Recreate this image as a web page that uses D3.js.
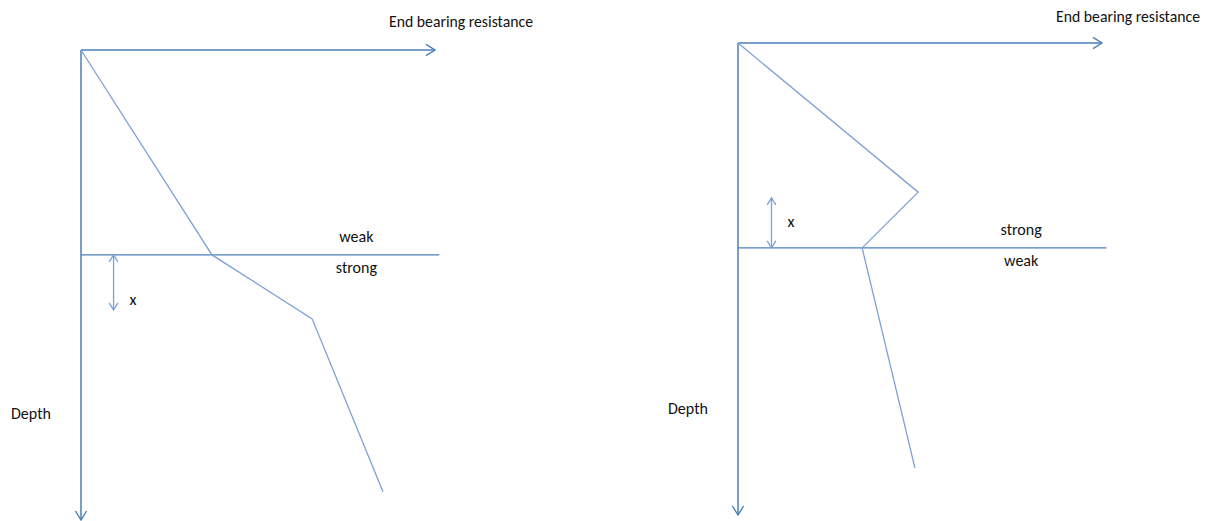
<!DOCTYPE html>
<html>
<head>
<meta charset="utf-8">
<script src="https://cdn.jsdelivr.net/npm/d3@7"></script>
<style>
  html, body { margin: 0; padding: 0; background: #fff; }
  svg text { font-family: Carlito, "Liberation Sans Narrow", "Open Sans", sans-serif; fill: #111; }
</style>
</head>
<body>
<svg id="chart" width="1210" height="521"></svg>
<script>
/* ── DATA (resistance / depth in 0–100 diagram units) ── */
const panelNames      = ['weakOverStrong', 'strongOverWeak'];
const profileLeft     = [[0, 0], [37.0, 43.6], [65.3, 57.2], [85.3, 94.0]];
const profileRight    = [[0, 0], [49.5, 31.6], [34.1, 43.4], [48.6, 90.0]];
const interfaceDepth  = [43.6, 43.4];
const xMarkerFrom     = [43.6, 43.4];
const xMarkerTo       = [55.3, 32.8];
const xLabelDepth     = [53.2, 37.9];
const upperLayerLabel = ['weak', 'strong'];
const lowerLayerLabel = ['strong', 'weak'];
const xAxisLabel      = 'End bearing resistance';
const yAxisLabel      = 'Depth';

/* ── LAYOUT ─────────────────────────────────────── */
const panels = [
  { xr: [81, 435],  yr: [50, 520], profile: profileLeft,  titleDy: -28 },
  { xr: [738, 1102], yr: [43, 515], profile: profileRight, titleDy: -26 }
];

const AXIS = '#4a7ebb';
const PROF = '#7ca1d6';

const svg = d3.select('#chart');

function chevron(g, x, y, dir, size, color, w) {
  // open arrowhead pointing in dir: 'right' | 'down' | 'up'
  const s = size, h = size * 0.62;
  let pts;
  if (dir === 'right') pts = [[x - s, y - h], [x, y], [x - s, y + h]];
  if (dir === 'down')  pts = [[x - h, y - s], [x, y], [x + h, y - s]];
  if (dir === 'up')    pts = [[x - h, y + s], [x, y], [x + h, y + s]];
  g.append('path').attr('d', d3.line()(pts))
    .attr('fill', 'none').attr('stroke', color).attr('stroke-width', w);
}

panels.forEach((p, i) => {
  const x = d3.scaleLinear().domain([0, 100]).range(p.xr);
  const y = d3.scaleLinear().domain([0, 100]).range(p.yr);
  const g = svg.append('g').attr('class', panelNames[i]);

  // axes
  g.append('line').attr('x1', x(0)).attr('x2', x(100)).attr('y1', y(0)).attr('y2', y(0))
    .attr('stroke', AXIS).attr('stroke-width', 1.5);
  chevron(g, x(100), y(0), 'right', 9, AXIS, 1.4);
  g.append('line').attr('x1', x(0)).attr('x2', x(0)).attr('y1', y(0)).attr('y2', y(100))
    .attr('stroke', AXIS).attr('stroke-width', 1.5);
  chevron(g, x(0), y(100), 'down', 9, AXIS, 1.4);

  // layer interface
  g.append('line').attr('x1', x(0)).attr('x2', x(101.2))
    .attr('y1', y(interfaceDepth[i])).attr('y2', y(interfaceDepth[i]))
    .attr('stroke', AXIS).attr('stroke-width', 1.4);

  // resistance profile
  g.append('path').datum(p.profile)
    .attr('d', d3.line().x(d => x(d[0])).y(d => y(d[1])))
    .attr('fill', 'none').attr('stroke', PROF).attr('stroke-width', 1.3);

  // x marker (double arrow)
  const mx = x(9.2);
  g.append('line').attr('x1', mx).attr('x2', mx)
    .attr('y1', y(xMarkerFrom[i])).attr('y2', y(xMarkerTo[i]))
    .attr('stroke', PROF).attr('stroke-width', 1.3);
  const up = xMarkerTo[i] < xMarkerFrom[i];
  chevron(g, mx, y(xMarkerTo[i]), up ? 'up' : 'down', 7, PROF, 1.3);
  chevron(g, mx, y(xMarkerFrom[i]), up ? 'down' : 'up', 7, PROF, 1.3);
  g.append('text').attr('x', mx + 16).attr('y', y(xLabelDepth[i]) + 5)
    .attr('font-size', 16).text('x');

  // layer labels
  g.append('text').attr('x', x(77.8)).attr('y', y(interfaceDepth[i]) - 13)
    .attr('text-anchor', 'middle').attr('font-size', 16).text(upperLayerLabel[i]);
  g.append('text').attr('x', x(77.8)).attr('y', y(interfaceDepth[i]) + 18)
    .attr('text-anchor', 'middle').attr('font-size', 16).text(lowerLayerLabel[i]);

  // axis titles
  g.append('text').attr('x', x(100) - 46).attr('y', y(0) + p.titleDy + 5)
    .attr('font-size', 16).attr('textLength', 144).attr('lengthAdjust', 'spacingAndGlyphs')
    .text(xAxisLabel);
  g.append('text').attr('x', x(0) - 70).attr('y', y(77.5) + 5)
    .attr('font-size', 16).text(yAxisLabel);
});
</script>
</body>
</html>
